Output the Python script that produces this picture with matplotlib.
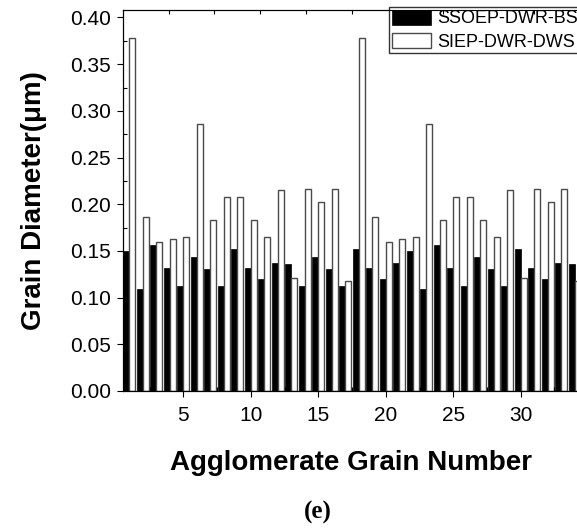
import numpy as np
import matplotlib
matplotlib.use("Agg")
import matplotlib.pyplot as plt
from matplotlib.ticker import MultipleLocator

plt.rcParams['font.family'] = ['Liberation Sans', 'DejaVu Sans']

grain = np.arange(1, 35)
ssoep = [0.150, 0.109, 0.156, 0.132, 0.112, 0.144, 0.131, 0.112, 0.152, 0.132,
         0.120, 0.137, 0.136, 0.112, 0.144, 0.131, 0.112, 0.152, 0.132, 0.120,
         0.137, 0.150, 0.109, 0.156, 0.132, 0.112, 0.144, 0.131, 0.112, 0.152,
         0.132, 0.120, 0.137, 0.136]
siep = [0.378, 0.186, 0.160, 0.163, 0.165, 0.286, 0.183, 0.208, 0.208, 0.183,
        0.165, 0.215, 0.121, 0.216, 0.202, 0.216, 0.118, 0.378, 0.186, 0.160,
        0.163, 0.165, 0.286, 0.183, 0.208, 0.208, 0.183, 0.165, 0.215, 0.121,
        0.216, 0.202, 0.216, 0.118]
labels = ['SSOEP-DWR-BS', 'SIEP-DWR-DWS']

fig = plt.figure(figsize=(5.77, 5.29), dpi=100)
ax = fig.add_axes([123/577, 1 - 391/529, 457/577, 381/529])

w = 0.45
ax.bar(grain - w, ssoep, width=w, align='edge', color='black',
       edgecolor='black', linewidth=0.5, label=labels[0])
ax.bar(grain, siep, width=w, align='edge', color='white',
       edgecolor='#4a4a4a', linewidth=1.0, label=labels[1])

ax.set_xlim(0.53, 34.39)
ax.set_ylim(0, 0.408)
ax.xaxis.set_major_locator(MultipleLocator(5))
ax.xaxis.set_minor_locator(MultipleLocator(2.5))
ax.yaxis.set_major_locator(MultipleLocator(0.05))
ax.yaxis.set_minor_locator(MultipleLocator(0.025))
ax.set_xticks([5, 10, 15, 20, 25, 30])
ax.yaxis.set_major_formatter(plt.FormatStrFormatter('%.2f'))
ax.tick_params(which='major', direction='out', length=4.5, width=0.8,
               labelsize=15, pad=4)
ax.tick_params(axis='x', which='major', pad=6)
ax.tick_params(which='minor', direction='in', length=3, width=0.8)
for s in ax.spines.values():
    s.set_linewidth(0.8)

# top axis ticks (Origin style)
top = ax.twiny()
top.set_xlim(0, 10)
top.set_xticks(np.arange(1, 10))
top.tick_params(axis='x', direction='in', length=3, width=0.8, labeltop=False)

ax.set_xlabel('Agglomerate Grain Number', fontsize=20, fontweight='bold',
              labelpad=18)
ax.set_ylabel('Grain Diameter(\u03bcm)', fontsize=20, fontweight='bold',
              labelpad=17)

ax.legend(loc='upper left', bbox_to_anchor=(389/577, 1 - 7/529),
          bbox_transform=fig.transFigure, borderaxespad=0, fontsize=13,
          frameon=True, fancybox=False, edgecolor='#333333', framealpha=1,
          handlelength=2.2, handleheight=0.9, handletextpad=0.3,
          borderpad=0.15, labelspacing=0.3)

fig.text(318/577, 1 - 512/529, '(e)', fontsize=18, fontweight='bold',
         family=['Liberation Serif', 'DejaVu Serif'], ha='center', va='center')

fig.savefig('out.png', dpi=100)
